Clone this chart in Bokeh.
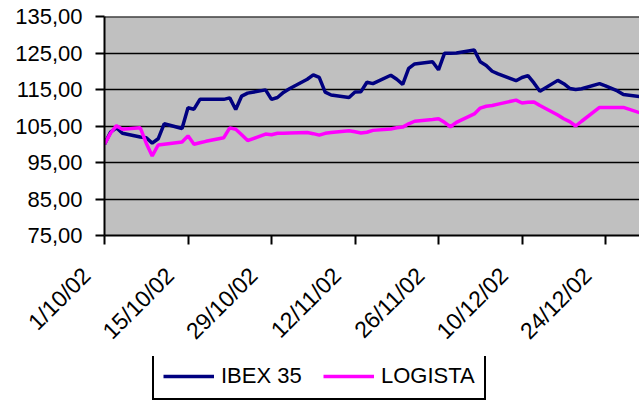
import math
import pandas as pd
from bokeh.plotting import figure
from bokeh.layouts import column
from bokeh.models import Range1d, FixedTicker, Span, Legend, LegendItem
from bokeh.embed import file_html
from bokeh.resources import INLINE

# ---- data ----
dates = [
    "01/10/02", "02/10/02", "03/10/02", "04/10/02", "07/10/02", "08/10/02", "09/10/02",
    "10/10/02", "11/10/02", "14/10/02", "15/10/02", "16/10/02", "17/10/02", "18/10/02",
    "21/10/02", "22/10/02", "23/10/02", "24/10/02", "25/10/02", "28/10/02", "29/10/02",
    "30/10/02", "31/10/02", "01/11/02", "04/11/02", "05/11/02", "06/11/02", "07/11/02",
    "08/11/02", "11/11/02", "12/11/02", "13/11/02", "14/11/02", "15/11/02", "18/11/02",
    "19/11/02", "20/11/02", "21/11/02", "22/11/02", "25/11/02", "26/11/02", "27/11/02",
    "28/11/02", "29/11/02", "02/12/02", "03/12/02", "04/12/02", "05/12/02", "06/12/02",
    "09/12/02", "10/12/02", "11/12/02", "12/12/02", "13/12/02", "16/12/02", "17/12/02",
    "18/12/02", "19/12/02", "20/12/02", "23/12/02", "24/12/02", "26/12/02", "27/12/02",
    "30/12/02", "31/12/02",
]
ibex35 = [
    100.0, 103.3, 104.5, 103.0, 102.0, 101.8, 100.3,
    101.5, 105.6, 104.3, 110.0, 109.6, 112.3, 112.3,
    112.3, 112.7, 109.5, 113.2, 114.0, 114.9, 112.3,
    112.8, 114.2, 115.2, 117.8, 119.0, 118.3, 114.3,
    113.5, 112.8, 114.3, 114.4, 117.0, 116.6, 118.9,
    117.8, 116.4, 120.8, 122.0, 122.6, 120.4, 124.9,
    124.9, 125.0, 125.8, 122.6, 121.6, 120.0, 119.3,
    117.4, 118.3, 118.8, 116.8, 114.5, 117.5, 116.6,
    115.3, 115.0, 115.2, 116.6, 116.0, 114.6, 113.6,
    113.0, 112.8,
]
logista = [
    100.0, 103.0, 105.1, 104.1, 104.5, 100.3, 96.8,
    99.8, 100.0, 100.6, 102.3, 100.0, 100.4, 100.8,
    101.8, 104.5, 104.1, 102.6, 101.0, 102.8, 102.6,
    103.0, 103.0, 103.1, 103.2, 102.9, 102.5, 103.0,
    103.2, 103.7, 103.4, 103.1, 103.3, 103.8, 104.2,
    104.5, 104.7, 105.6, 106.3, 106.8, 107.0, 106.0,
    104.8, 106.0, 108.3, 109.9, 110.4, 110.6, 111.0,
    112.1, 111.3, 111.5, 111.6, 110.6, 108.0, 107.0,
    106.2, 105.0, 106.3, 110.1, 110.1, 110.1, 110.1,
    108.5, 108.2,
]
series_names = ["IBEX 35", "LOGISTA"]
series_colors = ["#000080", "#FF00FF"]
x_tick_labels = ["1/10/02", "15/10/02", "29/10/02", "12/11/02", "26/11/02", "10/12/02", "24/12/02"]
y_ticks = [75, 85, 95, 105, 115, 125, 135]
y_tick_labels = ["75,00", "85,00", "95,00", "105,00", "115,00", "125,00", "135,00"]

# ---- build ----
start = pd.to_datetime(dates[0], format="%d/%m/%y")
x_days = [(pd.to_datetime(d, format="%d/%m/%y") - start).days for d in dates]
x_ticks = [(pd.to_datetime(d, format="%d/%m/%y") - start).days for d in x_tick_labels]
series = [ibex35, logista]

FONT = "Liberation Sans"
PAD = "\u00a0" * 4  # shifts the rotated labels down-left like the original

p = figure(width=639, height=356, output_backend="svg", toolbar_location=None,
           min_border_left=104, min_border_right=0, min_border_top=16, min_border_bottom=118,
           x_range=Range1d(0, 89.7), y_range=Range1d(75, 135))
p.background_fill_color = "#C0C0C0"
p.border_fill_color = "white"
p.outline_line_color = None

p.add_layout(Span(location=135, dimension="width", line_color="black", line_width=2))

for s, c in zip(series, series_colors):
    p.line(x_days, s, line_color=c, line_width=3.5)

# axes
p.xaxis.ticker = FixedTicker(ticks=x_ticks)
p.xaxis.major_label_overrides = {t: l + PAD for t, l in zip(x_ticks, x_tick_labels)}
p.xaxis.major_label_orientation = math.pi / 4
p.yaxis.ticker = FixedTicker(ticks=y_ticks)
p.yaxis.major_label_overrides = {t: l for t, l in zip(y_ticks, y_tick_labels)}
for ax in (p.xaxis[0], p.yaxis[0]):
    ax.axis_line_color = "black"
    ax.axis_line_width = 2
    ax.major_tick_line_color = "black"
    ax.major_tick_line_width = 2
    ax.major_tick_out = 9
    ax.major_tick_in = 0
    ax.minor_tick_line_color = None
    ax.major_label_text_font = FONT
    ax.major_label_text_color = "black"
p.yaxis.major_label_text_font_size = "22px"
p.xaxis.major_label_text_font_size = "23px"
p.xaxis.major_label_text_line_height = 0.6
p.yaxis.major_label_standoff = 13
p.xaxis.major_label_standoff = 9

p.xgrid.grid_line_color = None
p.ygrid.grid_line_color = "black"
p.ygrid.grid_line_width = 1.5

# legend strip below the chart (series drawn out of its visible range)
pl = figure(width=639, height=45, output_backend="svg", toolbar_location=None,
            min_border_left=0, min_border_right=0, min_border_top=0, min_border_bottom=0,
            x_axis_location=None, y_axis_location=None,
            x_range=Range1d(0, 1), y_range=Range1d(0, 1))
pl.outline_line_color = None
pl.xgrid.grid_line_color = None
pl.ygrid.grid_line_color = None
lr = [pl.line(x_days, s, line_color=c, line_width=3.5) for s, c in zip(series, series_colors)]

legend = Legend(items=[LegendItem(label=n, renderers=[r]) for n, r in zip(series_names, lr)],
                orientation="horizontal", location=(48, 1))
legend.border_line_color = "black"
legend.border_line_alpha = 1
legend.border_line_width = 2
legend.background_fill_color = "white"
legend.background_fill_alpha = 1
legend.label_text_font = FONT
legend.label_text_font_size = "22px"
legend.label_text_color = "black"
legend.label_standoff = 7
legend.label_width = 92
legend.glyph_width = 51
legend.glyph_height = 24
legend.spacing = 10
legend.padding = 9
legend.margin = 0
pl.add_layout(legend, "center")

layout = column(p, pl, spacing=0)
open("out.html", "w").write(file_html(layout, INLINE))
